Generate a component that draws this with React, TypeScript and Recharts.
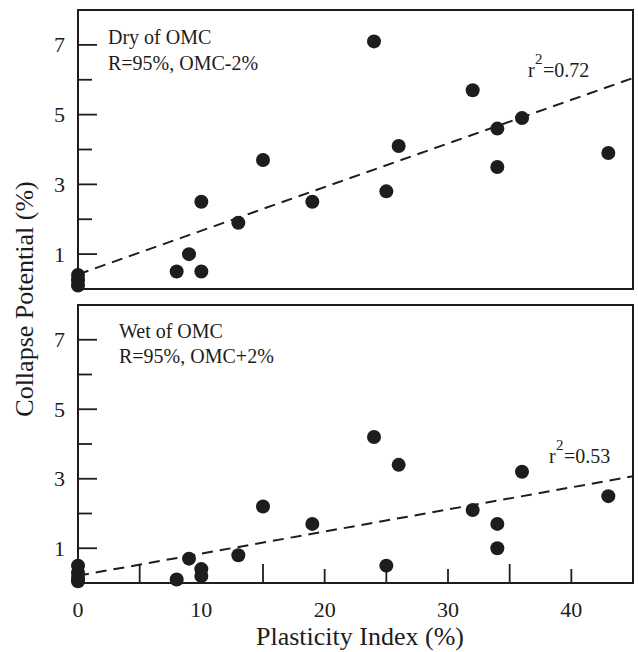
import { ScatterChart, Scatter, XAxis, YAxis, ReferenceLine, ReferenceArea } from 'recharts';

// plasticity index (%) and collapse potential (%)
const dryPI = [0, 0, 0, 8, 9, 10, 10, 13, 15, 19, 24, 25, 26, 32, 34, 34, 36, 43];
const dryCP = [0.1, 0.25, 0.4, 0.5, 1.0, 0.5, 2.5, 1.9, 3.7, 2.5, 7.1, 2.8, 4.1, 5.7, 4.6, 3.5, 4.9, 3.9];
const wetPI = [0, 0, 0, 0, 8, 9, 10, 10, 13, 15, 19, 24, 25, 26, 32, 34, 34, 36, 43];
const wetCP = [0.05, 0.15, 0.3, 0.5, 0.1, 0.7, 0.4, 0.2, 0.8, 2.2, 1.7, 4.2, 0.5, 3.4, 2.1, 1.7, 1.0, 3.2, 2.5];

// fitted lines, endpoints at PI = 0 and 45
const trendX = [0, 45];
const dryTrendY = [0.42, 6.05];
const wetTrendY = [0.21, 3.07];

const xTicks = [0, 5, 10, 15, 20, 25, 30, 35, 40];
const yTicks = [1, 2, 3, 4, 5, 6, 7];

const INK = '#1e1c1d';
const FONT = "'Liberation Serif', 'Times New Roman', Times, serif";
const txt = { fontFamily: FONT };

const toPoints = (xs: number[], ys: number[]) => xs.map((x, i) => ({ x, y: ys[i] }));

const Dot = (p: any) => <circle cx={p.cx} cy={p.cy} r={7} fill={INK} />;

const makeXTick = (showLabels: boolean) => (p: any) => {
  const v = p.payload.value;
  const len = v % 10 === 0 ? 14 : 19;
  return (
    <g>
      {v !== 0 && <line x1={p.x} x2={p.x} y1={p.y} y2={p.y - len} stroke={INK} strokeWidth={1.8} />}
      {showLabels && v % 10 === 0 && (
        <text x={p.x} y={p.y + 34} textAnchor="middle" fontSize={22} style={txt} fill={INK}>
          {v}
        </text>
      )}
    </g>
  );
};

const YTick = (p: any) => {
  const v = p.payload.value;
  const major = v % 2 === 1;
  return (
    <g>
      <line x1={p.x} x2={p.x + (major ? 19 : 14)} y1={p.y} y2={p.y} stroke={INK} strokeWidth={1.8} />
      {major && (
        <text x={p.x - 13} y={p.y} dy="0.34em" textAnchor="end" fontSize={22} style={txt} fill={INK}>
          {v}
        </text>
      )}
    </g>
  );
};

function Panel({ data, trendY, height, bottomAxis, top }: any) {
  const seg = toPoints(trendX, trendY);
  return (
    <div style={{ position: 'absolute', left: 0, top }}>
      <ScatterChart
        width={638}
        height={height}
        margin={{ top: 10, right: 5, bottom: bottomAxis ? 0 : 11, left: 0 }}
      >
        <XAxis
          type="number"
          dataKey="x"
          domain={[0, 45]}
          ticks={xTicks}
          height={bottomAxis ? 69 : 0}
          tickSize={0}
          tickMargin={0}
          tickLine={false}
          axisLine={false}
          tick={makeXTick(bottomAxis)}
          interval={0}
        />
        <YAxis
          type="number"
          dataKey="y"
          domain={[0, 8]}
          ticks={yTicks}
          width={78}
          tickSize={0}
          tickMargin={0}
          tickLine={false}
          axisLine={false}
          tick={YTick}
          interval={0}
        />
        <ReferenceArea x1={0} x2={45} y1={0} y2={8} fill="none" stroke={INK} strokeWidth={2} fillOpacity={0} />
        <ReferenceLine segment={seg} stroke={INK} strokeWidth={2} strokeDasharray="11 7" />
        <Scatter data={data} shape={Dot} isAnimationActive={false} />
      </ScatterChart>
    </div>
  );
}

function RSquared({ x, y, value }: { x: number; y: number; value: string }) {
  return (
    <g style={txt}>
      <text x={x} y={y} fontSize={20}>r</text>
      <text x={x + 7} y={y - 13} fontSize={15}>2</text>
      <text x={x + 15} y={y} fontSize={20}>={value}</text>
    </g>
  );
}

export default function App() {
  return (
    <div style={{ position: 'absolute', left: 0, top: 0, width: 638, height: 652, background: '#fff' }}>
      <Panel data={toPoints(dryPI, dryCP)} trendY={dryTrendY} height={300} bottomAxis={false} top={0} />
      <Panel data={toPoints(wetPI, wetCP)} trendY={wetTrendY} height={357} bottomAxis={true} top={295} />
      <svg
        width={638}
        height={652}
        style={{ position: 'absolute', left: 0, top: 0, pointerEvents: 'none', fontFamily: FONT }}
        fill={INK}
      >
        <text x={108} y={44} fontSize={20} style={txt}>Dry of OMC</text>
        <text x={108} y={70} fontSize={20} style={txt}>R=95%, OMC-2%</text>
        <RSquared x={528} y={76.5} value="0.72" />
        <text x={119} y={338} fontSize={20} style={txt}>Wet of OMC</text>
        <text x={119} y={363} fontSize={20} style={txt}>R=95%, OMC+2%</text>
        <RSquared x={549} y={462.5} value="0.53" />
        <text x={33} y={299} fontSize={26} textAnchor="middle" transform="rotate(-90, 33, 299)" style={txt}>
          Collapse Potential (%)
        </text>
        <text x={360} y={645} fontSize={26} textAnchor="middle" style={txt}>
          Plasticity Index (%)
        </text>
      </svg>
    </div>
  );
}
